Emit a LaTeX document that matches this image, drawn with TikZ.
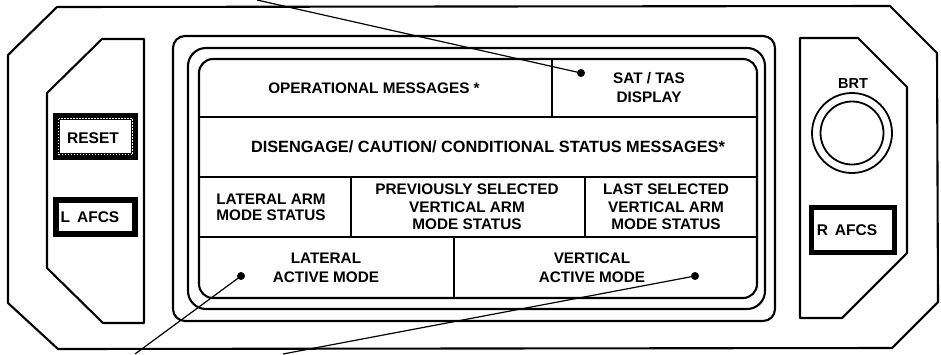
\documentclass[tikz,border=0pt]{standalone}
\usepackage{fontspec}
\setmainfont{Liberation Sans}
\begin{document}
\begin{tikzpicture}[x=1pt,y=-1pt,
  frame/.style={line width=2.1pt, line join=round},
  grid/.style={line width=1.7pt},
  cell/.style={font=\fontsize{15.3}{19}\selectfont\bfseries, align=center, inner sep=0pt},
  tight/.style={font=\fontsize{15.3}{17.5}\selectfont\bfseries},
  btn/.style={font=\fontsize{15.5}{17}\selectfont\bfseries, inner sep=0pt},
  pin/.style={circle, fill=black, inner sep=0pt, minimum size=8pt},
  leader/.style={line width=1.2pt}]
\useasboundingbox (0,0) rectangle (941,354);

% outer housing
\draw[frame] (57,7) -- (890,6) -- (937,53) -- (938,302) -- (892,348)
  -- (58,349) -- (8,303) -- (8,55) -- cycle;
% left and right side bezels
\draw[frame] (102,39) -- (144,39) -- (144,323) -- (103,323) -- (47,268)
  -- (47,93) -- cycle;
\draw[frame] (800,38) -- (858,38) -- (907,87) -- (907,253) -- (842,318)
  -- (800,318) -- cycle;

% display surround and screen
\draw[frame, rounded corners=12pt] (173,36) rectangle (775,321);
\draw[frame, rounded corners=18pt] (188,48) rectangle (765,309);
\draw[frame, rounded corners=14pt] (199,59) rectangle (757,298);

% screen fields
\draw[grid] (199,117) -- (757,117);
\draw[grid] (199,177) -- (757,177);
\draw[grid] (199,237) -- (757,237);
\draw[grid] (552,59) -- (552,117);
\draw[grid] (351,177) -- (351,237);
\draw[grid] (585,177) -- (585,237);
\draw[grid] (454,237) -- (454,298);

\node[cell] (opmsg) at (374,88) {OPERATIONAL MESSAGES *};
\node[cell] (sattas) at (649,88) {SAT / TAS\\DISPLAY};
\node[cell, font=\fontsize{16.3}{19}\selectfont\bfseries] (diseng) at (488,147)
  {DISENGAGE/ CAUTION/ CONDITIONAL STATUS MESSAGES*};
\node[cell, font=\fontsize{15.3}{16}\selectfont\bfseries] (latarm) at (271,207) {LATERAL ARM\\MODE STATUS};
\node[cell, tight] (prevarm) at (467,207) {PREVIOUSLY SELECTED\\VERTICAL ARM\\MODE STATUS};
\node[cell, tight] (lastarm) at (666,207) {LAST SELECTED\\VERTICAL ARM\\MODE STATUS};
\node[cell] (latact) at (326,268) {LATERAL\\ACTIVE MODE};
\node[cell] (vertact) at (592,268) {VERTICAL\\ACTIVE MODE};

% left bezel buttons
\draw[line width=7pt] (56.5,116.5) rectangle (134.5,156.5);
\draw[white, line width=1.4pt, dash pattern=on 1.4pt off 1.6pt] (58.5,118.5) rectangle (132.5,154.5);
\node[btn] (reset) at (93,138) {RESET};
\draw[line width=6pt] (56,200) rectangle (135,234);
\node[btn] (lafcs) at (90,217) {L\hspace{0.45em}AFCS};

% right bezel: brightness knob and button
\node[btn, font=\fontsize{14.5}{16}\selectfont\bfseries] (brt) at (853,84) {BRT};
\draw[line width=1.8pt] (852,133) circle[radius=40];
\draw[line width=1.8pt] (852,133) circle[radius=31.5];
\draw[line width=5pt] (811.5,207.5) rectangle (894.5,252.5);
\node[btn] (rafcs) at (847,230) {R\hspace{0.45em}AFCS};

% leader lines to the call-out points
\node[pin] (pinsat) at (581,73) {};
\node[pin] (pinlat) at (241,276) {};
\node[pin] (pinvert) at (695,276) {};
\coordinate (endsat) at (257,0);
\coordinate (endlat) at (135,354);
\coordinate (endvert) at (283,354);
\draw[leader] (endsat) -- (pinsat.center);
\draw[leader] (endlat) -- (pinlat.center);
\draw[leader] (endvert) -- (pinvert.center);
\end{tikzpicture}
\end{document}
